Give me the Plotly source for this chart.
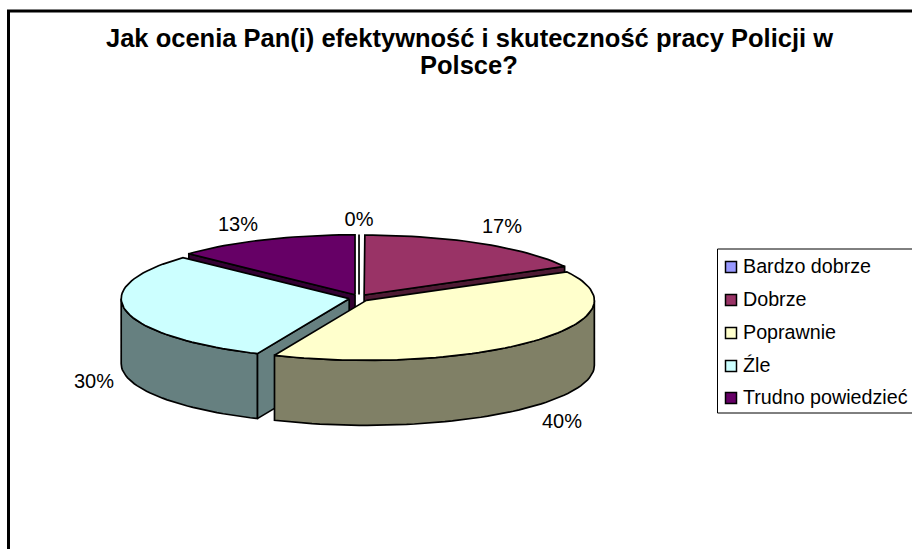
import math
import plotly.graph_objects as go

# Data
categories = ["Bardzo dobrze", "Dobrze", "Poprawnie", "Źle", "Trudno powiedzieć"]
values = [0.05, 17.05, 39.5, 30.4, 13.0]
colors = ["#9999FF", "#993366", "#FFFFCC", "#CCFFFF", "#660066"]
side_colors = ["#4D4D80", "#4D1A33", "#808066", "#668080", "#330033"]
title_lines = ["Jak ocenia Pan(i) efektywność i skuteczność pracy Policji w", "Polsce?"]

# Layout of the drawing (pixel-like axes)
W, H = 912, 549
CX, CY, RX, RY, DEPTH = 359, 298, 228, 60, 65
EXPLODE_X, EXPLODE_Y = 10, 3.5
label_x = [359, 502, 562, 94, 238]
label_y = [220.5, 227.5, 422.5, 382.5, 225.5]
legend_x = 731
legend_text_x = 743
legend_y = [267, 300, 333, 366, 398]
title_x = 469
title_y = [38, 65]
FONT = "Liberation Sans, Arial, sans-serif"

fig = go.Figure()


def poly(xs, ys, fill):
    fig.add_trace(go.Scatter(
        x=xs + xs[:1], y=ys + ys[:1], mode="lines", fill="toself", fillcolor=fill,
        line=dict(color="black", width=1.7), hoverinfo="skip", showlegend=False))


def arc(cx, cy, a, b, dy=0):
    n = max(2, int(abs(b - a) / 2) + 2)
    ts = [a + (b - a) * i / (n - 1) for i in range(n)]
    return ([cx + RX * math.sin(math.radians(t)) for t in ts],
            [cy - RY * math.cos(math.radians(t)) + dy for t in ts])


# slice geometry derives from the values
total = sum(values)
angles = []
cum = 0.0
for v in values:
    angles.append((cum / total * 360, (cum + v) / total * 360))
    cum += v

# painter's order: back slices first, then front-left, then front-right
for i in [4, 1, 0, 3, 2]:
    a, b = angles[i]
    mid = math.radians((a + b) / 2)
    cx = CX + EXPLODE_X * math.sin(mid)
    cy = CY - EXPLODE_Y * math.cos(mid)
    for ang, visible in ((a, math.sin(math.radians(a)) < 0), (b, math.sin(math.radians(b)) > 0)):
        if visible and i != 0:
            ex = cx + RX * math.sin(math.radians(ang))
            ey = cy - RY * math.cos(math.radians(ang))
            poly([cx, ex, ex, cx], [cy, ey, ey + DEPTH, cy + DEPTH], side_colors[i])
    lo, hi = max(a, 90), min(b, 270)
    if hi > lo:
        xt, yt = arc(cx, cy, lo, hi)
        xb, yb = arc(cx, cy, lo, hi, DEPTH)
        poly(xt + xb[::-1], yt + yb[::-1], side_colors[i])
    xt, yt = arc(cx, cy, a, b)
    poly([cx] + xt, [cy] + yt, colors[i])

# percentage labels
fig.add_trace(go.Scatter(
    x=label_x, y=label_y, mode="text", text=[f"{round(v)}%" for v in values],
    textposition="middle center", textfont=dict(family=FONT, size=20, color="black"),
    hoverinfo="skip", showlegend=False))

# legend entries
fig.add_trace(go.Scatter(
    x=[legend_x] * len(categories), y=legend_y, mode="markers",
    marker=dict(symbol="square", size=11, color=colors, line=dict(color="black", width=1.5)),
    hoverinfo="skip", showlegend=False))
fig.add_trace(go.Scatter(
    x=[legend_text_x] * len(categories), y=[v + 1.5 for v in legend_y], mode="text",
    text=categories, textposition="middle right",
    textfont=dict(family=FONT, size=19.7, color="black"),
    hoverinfo="skip", showlegend=False, cliponaxis=False))

fig.update_layout(
    width=W, height=H, autosize=False,
    margin=dict(l=0, r=0, t=0, b=0),
    paper_bgcolor="white", plot_bgcolor="white", showlegend=False,
    xaxis=dict(range=[0, W], visible=False, fixedrange=True),
    yaxis=dict(range=[H, 0], visible=False, fixedrange=True),
    annotations=[
        dict(text=f"<b>{t}</b>", x=title_x, y=y, xref="x", yref="y", showarrow=False,
             xanchor="center", yanchor="middle",
             font=dict(family=FONT, size=25.5, color="black"))
        for t, y in zip(title_lines, title_y)
    ],
    shapes=[
        dict(type="line", x0=8.5, x1=8.5, y0=10, y1=H, line=dict(color="black", width=3)),
        dict(type="line", x0=7, x1=W, y0=11, y1=11, line=dict(color="black", width=3)),
        dict(type="rect", x0=717.5, x1=W + 5, y0=249, y1=413, line=dict(color="black", width=1),
             layer="below"),
    ],
)
fig.write_html("out.html", config={"displayModeBar": False},
               post_script="document.body.style.margin='0';document.documentElement.style.overflow='hidden';")
